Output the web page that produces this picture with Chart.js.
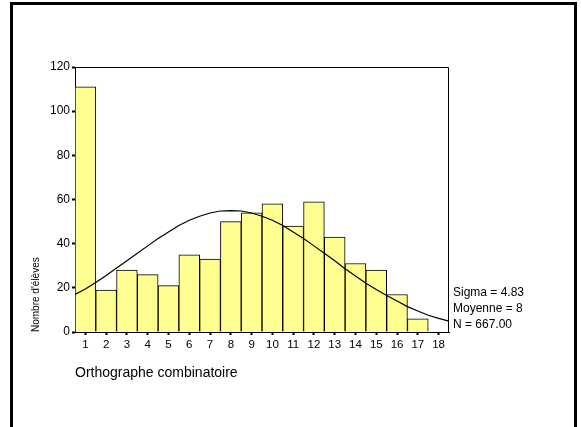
<!DOCTYPE html>
<html>
<head>
<meta charset="utf-8">
<script src="https://cdn.jsdelivr.net/npm/chart.js@4/dist/chart.umd.min.js"></script>
<style>
  html, body { margin: 0; padding: 0; background: #fff; overflow: hidden; }
  #frame {
    position: absolute; left: 10px; top: 2px; width: 567px; height: 500px;
    box-sizing: border-box; border: 3px solid #000; border-bottom: none;
  }
  #histo { position: absolute; left: 0; top: 0; }
</style>
</head>
<body>
<div id="frame"></div>
<canvas id="histo" width="581" height="427"></canvas>
<script>
// classes de l'histogramme
const categories = ['1', '2', '3', '4', '5', '6', '7', '8', '9', '10', '11', '12', '13', '14', '15', '16', '17', '18'];
// effectifs
const counts = [111, 19, 28, 26, 21, 35, 33, 50, 54, 58, 48, 59, 43, 31, 28, 17, 6, 0];
// courbe normale
const curveX = [0.5, 1, 1.5, 2, 2.5, 3, 3.5, 4, 4.5, 5, 5.5, 6, 6.5, 7, 7.5, 8, 8.5, 9, 9.5,
                10, 10.5, 11, 11.5, 12, 12.5, 13, 13.5, 14, 14.5, 15, 15.5, 16, 16.5, 17, 17.5, 18, 18.5];
const curveY = [17, 19.5, 22.4, 25.6, 29, 32.3, 35.7, 39, 42.3, 45.3, 48.2, 50.6, 52.4, 53.9, 54.8, 55, 54.8,
                53.9, 52.4, 50.6, 48.2, 45.3, 42.3, 39, 35.7, 32.3, 28.6, 25.4, 22.1, 19.2, 16.5, 14, 11.5,
                9.5, 7.6, 6.2, 4.9];
const yTicks = [0, 20, 40, 60, 80, 100, 120];
const statsLines = ['Sigma = 4.83', 'Moyenne = 8', 'N = 667.00'];

const FONT = '"Liberation Sans", Arial, sans-serif';

// cadre du graphique + texte des statistiques
const extras = {
    id: 'extras',
    afterDatasetsDraw(chart) {
        const ctx = chart.ctx;
        const a = chart.chartArea;
        ctx.save();
        ctx.strokeStyle = '#000';
        ctx.lineWidth = 1;
        ctx.beginPath();
        ctx.moveTo(Math.round(a.left) + 0.5, Math.round(a.top) + 0.5);
        ctx.lineTo(Math.round(a.right) - 0.5, Math.round(a.top) + 0.5);
        ctx.lineTo(Math.round(a.right) - 0.5, Math.round(a.bottom) + 0.5);
        ctx.stroke();

        ctx.fillStyle = '#000';
        ctx.font = '12px ' + FONT;
        ctx.textAlign = 'left';
        ctx.textBaseline = 'middle';
        statsLines.forEach((t, i) => {
            ctx.fillText(t, a.right + 4, a.bottom - 39 + i * 16);
        });
        ctx.restore();
    }
};

new Chart(document.getElementById('histo').getContext('2d'), {
    type: 'bar',
    data: {
        labels: categories,
        datasets: [
            {
                type: 'line',
                data: curveX.map((x, i) => ({ x: x, y: curveY[i] })),
                xAxisID: 'xc',
                yAxisID: 'y',
                borderColor: '#000',
                borderWidth: 1.2,
                pointRadius: 0,
                tension: 0,
                fill: false,
                order: 0
            },
            {
                data: counts,
                xAxisID: 'x',
                yAxisID: 'y',
                backgroundColor: '#ffff91',
                borderColor: '#000',
                borderWidth: 1,
                barPercentage: 1,
                categoryPercentage: 1,
                grouped: false,
                order: 1
            }
        ]
    },
    options: {
        responsive: false,
        animation: false,
        layout: { padding: { top: 67, right: 132, left: 0, bottom: 0 } },
        plugins: {
            legend: { display: false },
            tooltip: { enabled: false }
        },
        scales: {
            x: {
                type: 'category',
                offset: true,
                grid: {
                    offset: false,
                    drawOnChartArea: false,
                    drawTicks: true,
                    tickLength: 3,
                    tickWidth: 2,
                    tickColor: '#000'
                },
                border: { display: true, color: '#000', width: 1 },
                ticks: {
                    color: '#000',
                    padding: 3,
                    maxRotation: 0,
                    autoSkip: false,
                    font: { family: FONT, size: 11.5 }
                },
                title: {
                    display: true,
                    text: 'Orthographe combinatoire',
                    align: 'start',
                    color: '#000',
                    font: { family: FONT, size: 14 },
                    padding: { top: 0, bottom: 45.6 }
                },
                afterFit(scale) { scale.height = 95; }
            },
            xc: {
                type: 'linear',
                display: false,
                offset: false,
                min: 0.5,
                max: 18.5
            },
            y: {
                min: 0,
                max: 120,
                afterBuildTicks(scale) { scale.ticks = yTicks.map(v => ({ value: v })); },
                grid: {
                    drawOnChartArea: false,
                    drawTicks: true,
                    tickLength: 3,
                    tickWidth: 2,
                    tickColor: '#000'
                },
                border: { display: true, color: '#000', width: 1 },
                ticks: {
                    color: '#000',
                    padding: 2,
                    font: { family: FONT, size: 12 }
                },
                title: {
                    display: true,
                    text: "Nombre d'élèves",
                    align: 'start',
                    color: '#000',
                    font: { family: FONT, size: 10 },
                    padding: { top: 30, bottom: 0 }
                },
                afterFit(scale) { scale.width = 75; }
            }
        }
    },
    plugins: [extras]
});
</script>
</body>
</html>
